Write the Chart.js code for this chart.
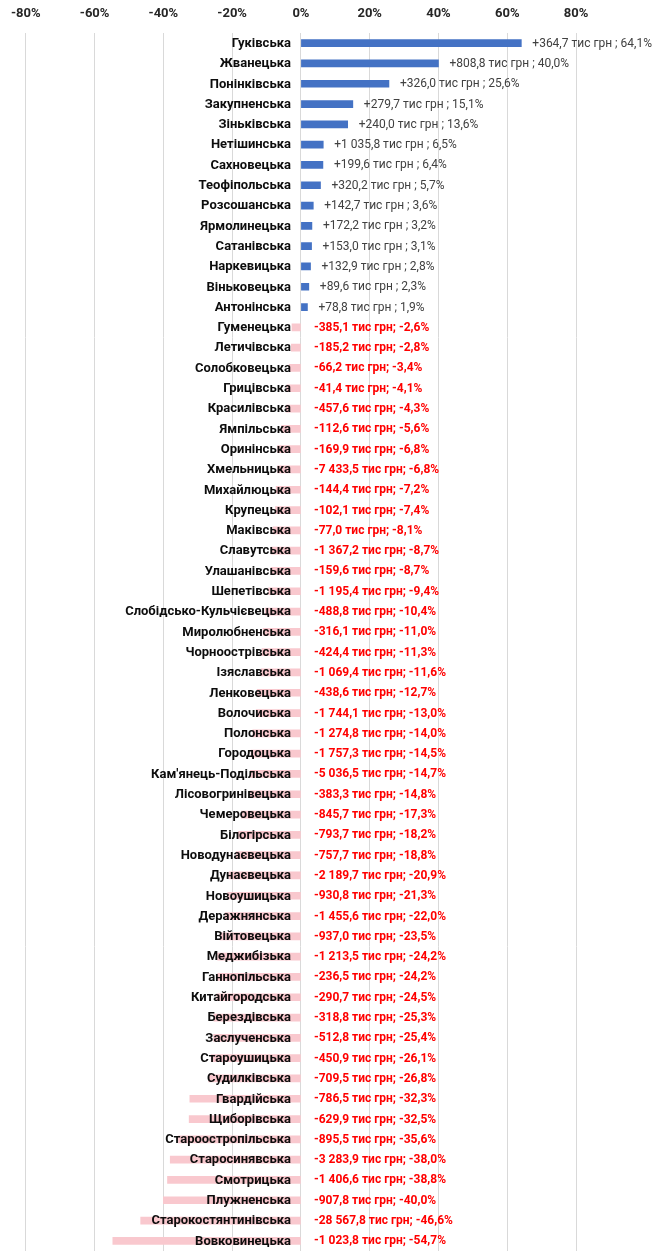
<!DOCTYPE html>
<html>
<head>
<meta charset="utf-8">
<script src="https://cdn.jsdelivr.net/npm/chart.js@4.4.1/dist/chart.umd.min.js"></script>
<style>
  html, body { margin: 0; padding: 0; background: #fff; }
  #wrap { width: 654px; height: 1251px; }
</style>
</head>
<body>
<div id="wrap"><canvas id="chart" width="654" height="1251"></canvas></div>
<script>
// ================= DATA =================
const communities = [
  "Гуківська", "Жванецька", "Понінківська", "Закупненська", "Зіньківська",
  "Нетішинська", "Сахновецька", "Теофіпольська", "Розсошанська", "Ярмолинецька",
  "Сатанівська", "Наркевицька", "Віньковецька", "Антонінська", "Гуменецька",
  "Летичівська", "Солобковецька", "Грицівська", "Красилівська", "Ямпільська",
  "Оринінська", "Хмельницька", "Михайлюцька", "Крупецька", "Маківська",
  "Славутська", "Улашанівська", "Шепетівська", "Слобідсько-Кульчієвецька", "Миролюбненська",
  "Чорноострівська", "Ізяславська", "Ленковецька", "Волочиська", "Полонська",
  "Городоцька", "Кам'янець-Подільська", "Лісовогринівецька", "Чемеровецька", "Білогірська",
  "Новодунаєвецька", "Дунаєвецька", "Новоушицька", "Деражнянська", "Війтовецька",
  "Меджибізька", "Ганнопільська", "Китайгородська", "Берездівська", "Заслученська",
  "Староушицька", "Судилківська", "Гвардійська", "Щиборівська", "Староостропільська",
  "Старосинявська", "Смотрицька", "Плужненська", "Старокостянтинівська", "Вовковинецька"
];

// change, thousand UAH
const amounts = [
  364.7, 808.8, 326.0, 279.7, 240.0, 1035.8, 199.6, 320.2, 142.7, 172.2,
  153.0, 132.9, 89.6, 78.8, -385.1, -185.2, -66.2, -41.4, -457.6, -112.6,
  -169.9, -7433.5, -144.4, -102.1, -77.0, -1367.2, -159.6, -1195.4, -488.8, -316.1,
  -424.4, -1069.4, -438.6, -1744.1, -1274.8, -1757.3, -5036.5, -383.3, -845.7, -793.7,
  -757.7, -2189.7, -930.8, -1455.6, -937.0, -1213.5, -236.5, -290.7, -318.8, -512.8,
  -450.9, -709.5, -786.5, -629.9, -895.5, -3283.9, -1406.6, -907.8, -28567.8, -1023.8
];

// change, %
const percents = [
  64.1, 40.0, 25.6, 15.1, 13.6, 6.5, 6.4, 5.7, 3.6, 3.2,
  3.1, 2.8, 2.3, 1.9, -2.6, -2.8, -3.4, -4.1, -4.3, -5.6,
  -6.8, -6.8, -7.2, -7.4, -8.1, -8.7, -8.7, -9.4, -10.4, -11.0,
  -11.3, -11.6, -12.7, -13.0, -14.0, -14.5, -14.7, -14.8, -17.3, -18.2,
  -18.8, -20.9, -21.3, -22.0, -23.5, -24.2, -24.2, -24.5, -25.3, -25.4,
  -26.1, -26.8, -32.3, -32.5, -35.6, -38.0, -38.8, -40.0, -46.6, -54.7
];

const axisMin = -80;
const axisMax = 80;
const axisStep = 20;

const FONT = "Roboto, 'Noto Sans', sans-serif";

// ================= HELPERS =================
function fmt(v) {
  const parts = Math.abs(v).toFixed(1).split(".");
  parts[0] = parts[0].replace(/\B(?=(\d{3})+(?!\d))/g, " ");
  return parts.join(",");
}

function valueLabel(i) {
  if (percents[i] >= 0) {
    return "+" + fmt(amounts[i]) + " тис грн ; " + fmt(percents[i]) + "%";
  }
  return "-" + fmt(amounts[i]) + " тис грн; -" + fmt(percents[i]) + "%";
}

// category names sit just left of zero (over the pink bars), values to the right
const labelsPlugin = {
  id: "labelsPlugin",
  afterDatasetsDraw(chart) {
    const ctx = chart.ctx;
    const x = chart.scales.x;
    const meta = chart.getDatasetMeta(0);
    const zero = x.getPixelForValue(0);
    ctx.save();
    ctx.textBaseline = "middle";
    meta.data.forEach((bar, i) => {
      const y = bar.y + 0.5;
      ctx.font = "bold 13px " + FONT;
      ctx.fillStyle = "#0d0d0d";
      ctx.textAlign = "right";
      ctx.fillText(communities[i], zero - 10, y);

      ctx.textAlign = "left";
      if (percents[i] >= 0) {
        ctx.font = "12px " + FONT;
        ctx.fillStyle = "#404040";
        ctx.fillText(valueLabel(i), bar.x + 11, y);
      } else {
        ctx.font = "bold 12px " + FONT;
        ctx.fillStyle = "#ff0000";
        ctx.fillText(valueLabel(i), zero + 13, y);
      }
    });
    ctx.restore();
  }
};

// ================= CHART =================
const ctx = document.getElementById("chart").getContext("2d");

new Chart(ctx, {
  type: "bar",
  data: {
    labels: communities,
    datasets: [{
      data: percents,
      backgroundColor: percents.map(p => p >= 0 ? "#4472c4" : "#f9c8ce"),
      borderWidth: 0,
      barThickness: 7
    }]
  },
  options: {
    indexAxis: "y",
    responsive: false,
    animation: false,
    layout: { padding: { left: 24, right: 78, top: 0, bottom: 0 } },
    plugins: {
      legend: { display: false },
      tooltip: { enabled: false }
    },
    scales: {
      x: {
        position: "top",
        min: axisMin,
        max: axisMax,
        afterFit: s => { s.height = 33; },
        ticks: {
          stepSize: axisStep,
          padding: 11,
          color: "#262626",
          font: { family: FONT, size: 13, weight: "bold" },
          callback: v => v + "%"
        },
        grid: { color: "#d9d9d9", lineWidth: 1, drawTicks: false },
        border: { display: false }
      },
      y: {
        display: false,
        grid: { display: false }
      }
    }
  },
  plugins: [labelsPlugin]
});
</script>
</body>
</html>
